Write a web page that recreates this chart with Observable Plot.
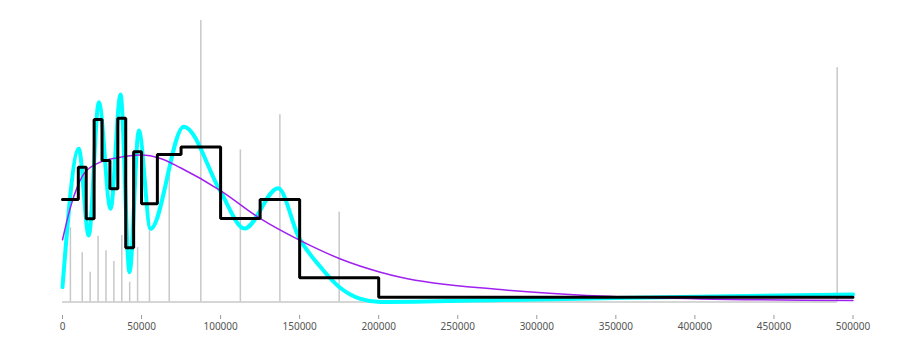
<!DOCTYPE html>
<html>
<head>
<meta charset="utf-8">
<script src="https://cdn.jsdelivr.net/npm/d3@7"></script>
<script src="https://cdn.jsdelivr.net/npm/@observablehq/plot@0.6"></script>
<style>
  html, body { margin: 0; padding: 0; background: #fff; }
</style>
</head>
<body>
<div id="chart"></div>
<script>
// Income bracket edges (x) and the step (density) value of each bracket
const binEdges = [0, 10000, 15000, 20000, 25000, 30000, 35000, 40000, 45000, 50000, 60000, 75000, 100000, 125000, 150000, 200000, 500000];
const stepValues = [36.4, 47.9, 29.6, 64.8, 50.3, 40.2, 65.3, 19.3, 53.4, 34.9, 52.4, 55.1, 29.7, 36.4, 8.6, 1.7];

// Gray rules: positions and heights
const ruleX = [5000, 12500, 17500, 22500, 27500, 32500, 37500, 42500, 47500, 55000, 67500, 87500, 112500, 137500, 175000, 490000];
const ruleValues = [26.4, 17.5, 10.6, 23.4, 18.2, 14.4, 23.6, 7.0, 19.3, 25.2, 48.8, 100, 54.0, 66.5, 31.9, 83.2];

// Cyan smooth curve (read points)
const cyanX = [0, 10300, 16600, 23000, 30400, 36700, 42400, 48300, 55700, 76700, 99900, 115100, 136400, 149500, 163200, 175000, 188500, 201100, 277000, 350000, 500000];
const cyanY = [5.3, 54.4, 23.6, 71.0, 33.1, 73.7, 10.6, 60.9, 26.0, 62.3, 39.3, 26.1, 40.4, 23.0, 12.4, 5.3, 1.1, 0, 0.7, 1.4, 2.7];

// Purple smooth curve (read points)
const purpleX = [0, 5060, 9300, 13500, 24000, 34600, 49300, 62000, 74600, 99900, 125200, 150500, 175800, 201100, 213800, 277000, 340300, 403500, 500000];
const purpleY = [22.1, 33.7, 40.8, 45.5, 49.7, 51.2, 52.2, 51.0, 47.7, 39.6, 29.6, 21.8, 15.3, 10.6, 8.8, 4.4, 2.1, 1.1, 0.5];

// X axis ticks
const xTicks = [0, 50000, 100000, 150000, 200000, 250000, 300000, 350000, 400000, 450000, 500000];

const stepData = binEdges.map((e, i) => ({x: e, y: stepValues[Math.min(i, stepValues.length - 1)]}));
const rules = ruleX.map((x, i) => ({x, y: ruleValues[i]}));
const cyan = cyanX.map((x, i) => ({x, y: cyanY[i]}));
const purple = purpleX.map((x, i) => ({x, y: purpleY[i]}));

const chart = Plot.plot({
  width: 900,
  height: 352,
  marginLeft: 62,
  marginRight: 47.5,
  marginTop: 20,
  marginBottom: 37,
  x: {domain: [0, 500000], axis: null, label: null},
  y: {domain: [0, 100], axis: null, label: null, insetBottom: 13.5},
  marks: [
    Plot.ruleY([0], {x1: 0, x2: ruleX[ruleX.length - 1], stroke: "#c8c8c8", strokeWidth: 1.5}),
    Plot.ruleX(rules, {x: "x", y1: 0, y2: "y", stroke: "#c8c8c8", strokeWidth: 1.5}),
    Plot.line(cyan, {x: "x", y: "y", curve: "monotone-x", stroke: "#00ffff", strokeWidth: 4}),
    Plot.line(purple, {x: "x", y: "y", curve: "monotone-x", stroke: "#a020f0", strokeWidth: 1.5}),
    Plot.line(stepData, {x: "x", y: "y", curve: "step-after", stroke: "#000", strokeWidth: 3, strokeLinejoin: "miter"}),
    Plot.axisX({ticks: xTicks, tickFormat: d3.format("d"), label: null, tickSize: 4, tickPadding: 3, stroke: "#999", fill: "#555", fontSize: 10})
  ]
});
document.getElementById("chart").appendChild(chart);
</script>
</body>
</html>
